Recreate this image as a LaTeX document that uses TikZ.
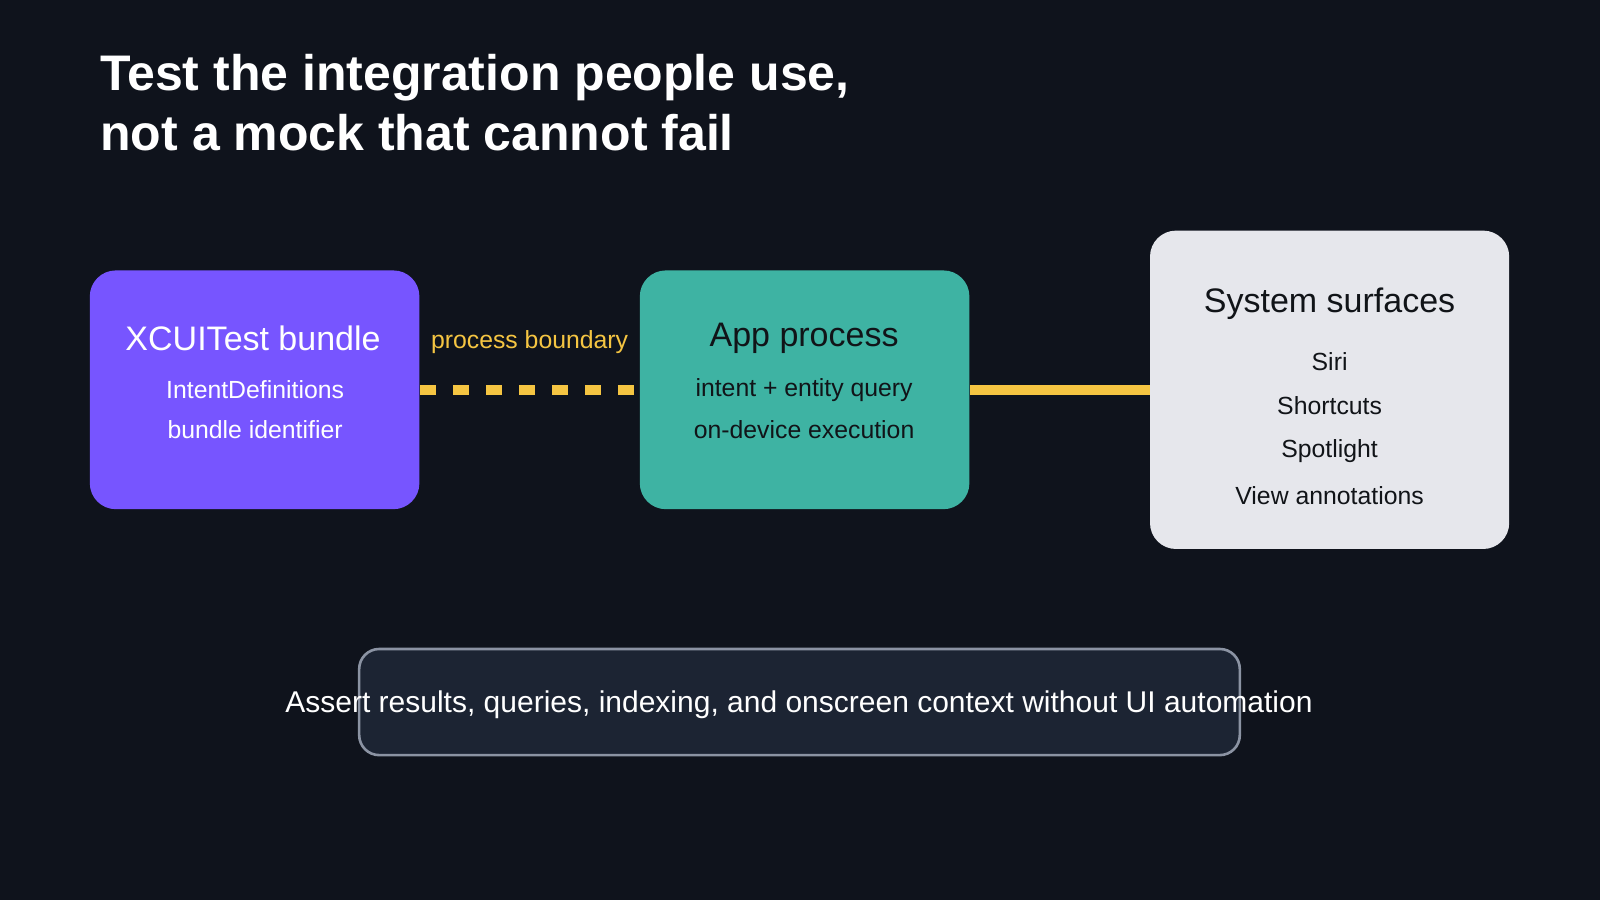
\documentclass[tikz,border=0pt]{standalone}
\usepackage{fontspec}
\setmainfont{Liberation Sans}
\definecolor{bg}{HTML}{0F131C}
\definecolor{purp}{HTML}{7755FF}
\definecolor{teal}{HTML}{3EB3A3}
\definecolor{light}{HTML}{E6E7EC}
\definecolor{yel}{HTML}{F5C542}
\definecolor{botfill}{HTML}{1C2433}
\definecolor{botline}{HTML}{8B93A3}
\definecolor{dark}{HTML}{111418}
\begin{document}
\begin{tikzpicture}[x=0.5102pt,y=-0.5102pt,
  box/.style={rounded corners=13pt,draw=none},
  ttl/.style={font=\fontsize{17}{20}\selectfont},
  body/.style={font=\fontsize{12.4}{15}\selectfont},
  conn/.style={yel,line width=5.1pt}]
\fill[bg] (0,0) rectangle (1568,882);
\node[anchor=west,inner sep=0pt,text=white,font=\fontsize{25}{30}\bfseries\selectfont,align=left] (title) at (98,101) {Test the integration people use,\\not a mock that cannot fail};
\node[box,fill=purp,minimum width=323*0.5102pt,minimum height=234*0.5102pt] (xc) at (249.5,382) {};
\node[box,fill=teal,minimum width=323*0.5102pt,minimum height=234*0.5102pt] (app) at (788.5,382) {};
\node[box,fill=light,minimum width=352*0.5102pt,minimum height=312*0.5102pt] (sys) at (1303,382) {};
\node[ttl,text=white] (xct) at (248,332) {XCUITest bundle};
\node[body,text=white] (xc1) at (250,382) {IntentDefinitions};
\node[body,text=white] (xc2) at (250,421) {bundle identifier};
\node[ttl,text=dark] (appt) at (788,332) {App process};
\node[body,text=dark] (app1) at (788,382) {intent + entity query};
\node[body,text=dark] (app2) at (788,421) {on-device execution};
\node[ttl,text=dark] (syst) at (1303,298) {System surfaces};
\node[body,text=dark] (s1) at (1303,354) {Siri};
\node[body,text=dark] (s2) at (1303,398) {Shortcuts};
\node[body,text=dark] (s3) at (1303,442) {Spotlight};
\node[body,text=dark] (s4) at (1303,486) {View annotations};
\draw[conn,dash pattern=on 8pt off 8.5pt] (xc.east) -- (app.west);
\draw[conn] (app.east) -- (sys.west);
\node[body,text=yel] (pb) at (519,335) {process boundary};
\node[draw=botline,line width=1.3pt,fill=botfill,rounded corners=10pt,minimum width=863*0.5102pt,minimum height=104*0.5102pt] (bot) at (783.5,688) {};
\node[text=white,font=\fontsize{15}{18}\selectfont] (bt) at (783,691) {Assert results, queries, indexing, and onscreen context without UI automation};
\end{tikzpicture}
\end{document}
